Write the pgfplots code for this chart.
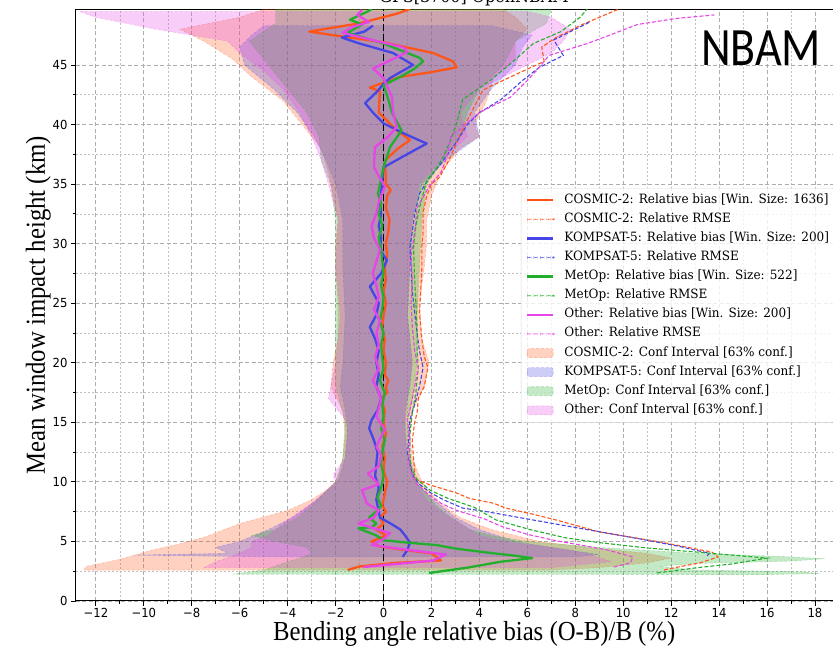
\documentclass[border=0pt]{standalone}
\usepackage{fontspec}
\usepackage{pgfplots}
\pgfplotsset{compat=1.18}
\setmainfont{DejaVu Serif}
\newfontfamily\tickfont{DejaVu Sans}[FakeStretch=0.93]
\newfontfamily\legfont{DejaVu Serif}[FakeStretch=0.94]
\newfontfamily\labfont{Liberation Serif}[FakeStretch=0.9]
\newfontfamily\nbamfont{Carlito}[FakeStretch=0.85]
\definecolor{cOr}{RGB}{255,85,25}
\definecolor{cBl}{RGB}{70,70,230}
\definecolor{cGr}{RGB}{35,175,45}
\definecolor{cMg}{RGB}{230,70,230}
\tikzset{
  band/.style={fill=#1, fill opacity=0.27, draw=#1, draw opacity=0.3, line width=0.6pt, dash pattern=on 3pt off 2pt},
  bias/.style={draw=#1, line width=2.3pt, line join=round},
  rmse/.style={draw=#1, line width=1.1pt, dash pattern=on 4pt off 2pt},
}
\pgfplotsset{
  myarealegend/.style={legend image code/.code={\draw[##1] (0pt,-4.5pt) rectangle (26pt,4.5pt);}},
  mylinelegend/.style={legend image code/.code={\draw[##1] (0pt,0pt) -- (26pt,0pt);}},
  mydashlegend/.style={legend image code/.code={\path[##1, solid, draw=none, fill] (0pt,-0.6pt) rectangle (4pt,0.6pt) (6.5pt,-0.6pt) rectangle (10.5pt,0.6pt) (13pt,-0.6pt) rectangle (17pt,0.6pt) (19.5pt,-0.6pt) rectangle (23.5pt,0.6pt) (26pt,-0.6pt) rectangle (26.1pt,0.6pt);}},
}
\begin{document}
\begin{tikzpicture}
\begin{axis}[
  at={(0pt,0pt)}, anchor=south west,
  x=23.97pt, y=11.912pt,
  xmin=-12.83, xmax=20.4, ymin=0, ymax=49.67,
  xtick={-12,-10,...,18},
  xticklabels={−12,−10,−8,−6,−4,−2,0,2,4,6,8,10,12,14,16,18},
  ytick={0,5,...,45},
  yticklabels={0,5,10,15,20,25,30,35,40,45},
  minor x tick num=1, minor y tick num=1,
  grid=both,
  major grid style={draw=black!32, line width=0.8pt, dash pattern=on 4pt off 2.5pt},
  minor grid style={draw=black!25, line width=0.5pt, dash pattern=on 2pt off 2pt},
  tick align=outside, xtick pos=left, ytick pos=left,
  major tick length=5pt, minor tick length=3pt,
  every tick/.style={black, line width=0.8pt},
  axis line style={line width=1pt},
  ticklabel style={font=\tickfont\fontsize{12.5}{14}\selectfont},
  xticklabel style={yshift=1pt},
  xlabel={Bending angle relative bias (O-B)/B (\%)},
  ylabel={Mean window impact height (km)},
  label style={font=\labfont\fontsize{27.5}{30}\selectfont},
  xlabel style={yshift=3pt},
  ylabel style={yshift=-5pt},
  legend cell align=left,
  legend style={at={(axis cs:5.73,34.67)}, anchor=north west, draw=black!15, rounded corners=2pt,
    fill=white, fill opacity=0.8, text opacity=1, font=\legfont\fontsize{12.8}{14}\selectfont,
    inner xsep=5pt, inner ysep=6pt, row sep=7.1pt, column sep=10pt,
    nodes={inner sep=0pt, text height=9pt, text depth=3pt}},
]
% confidence intervals
\addplot[band=cOr, forget plot] coordinates {
(-12.5,2.6) (-12.4,2.9) (-11,3.5) (-9.6,4.3) (-8.5,4.8) (-7.4,5.4) (-6.0,6.5) (-4.0,7.6) (-3.0,8.5) (-2.4,9.3) (-2.0,10.0) (-1.8,11) (-1.7,12) (-1.6,14) (-1.7,16) (-2.2,18) (-2.1,20) (-1.9,22) (-1.9,25) (-2.0,28) (-2.0,30) (-1.9,32) (-2.1,34) (-2.3,36) (-2.6,38) (-3.4,40) (-4.2,42) (-5.5,44) (-6.3,45.5) (-7.5,47) (-8.5,48) (-6.0,49) (-5.0,49.67)
(5.0,49.67) (5.5,49) (6.0,48) (5.5,47) (5.5,45.5) (4.6,44) (4.3,42) (3.8,40) (4.0,39) (3.2,38) (2.4,36) (2.0,34) (1.8,32) (1.8,30) (1.7,28) (1.5,25) (1.6,22) (1.9,20) (1.7,18) (1.2,16) (1.1,14) (1.2,12) (1.4,11) (1.6,10) (2.0,9) (2.5,8) (3.2,7) (4.5,6) (6.5,5) (8.5,4.5) (11,4.0) (12,3.6) (11,3.2) (9,2.8) (7,2.6)
} -- cycle;
\addplot[band=cBl, forget plot] coordinates {
(-4.5,3.7) (-10.4,3.85) (-6.5,4.0) (-7.0,4.5) (-6.0,5) (-4.8,6) (-3.8,7) (-3.1,8) (-2.5,9) (-1.9,10) (-1.6,12) (-1.5,14) (-1.6,16) (-1.8,18) (-1.7,20) (-1.6,24) (-1.7,28) (-1.7,32) (-2.0,35) (-2.4,37) (-2.9,39) (-3.6,41) (-4.6,43) (-5.8,45) (-6.0,46.5) (-5.5,47.5) (-5.0,48.3)
(4.5,48.3) (6.2,47.5) (5.8,46.5) (5.5,45) (4.5,43) (3.8,41) (4.0,39) (2.6,37) (1.6,35) (1.2,32) (1.1,28) (1.0,24) (1.2,20) (1.1,18) (0.9,16) (0.9,14) (1.0,12) (1.3,10) (1.8,9) (2.4,8) (3,7) (4,6) (5.5,5) (7,4.5) (9,3.9) (8,3.7)
} -- cycle;
\addplot[band=cGr, forget plot] coordinates {
(-6.3,2.25) (-5,2.6) (-4,3.3) (-3.5,3.6) (-3.0,4.0) (-3.2,4.5) (-4.5,5.0) (-5.5,5.5) (-4.5,6) (-3.6,7) (-3.0,8) (-2.5,9) (-2.0,10) (-1.7,12) (-1.6,15) (-2.0,18) (-2.0,20) (-2.0,24) (-2.0,28) (-2.0,32) (-2.2,35) (-2.6,37) (-2.7,39) (-3.2,41) (-4.0,43) (-4.8,45) (-5.6,47) (-4.5,48.5) (-4.5,49.67)
(7.0,49.67) (6.8,48.5) (5.5,47) (5.0,45) (4.0,43) (3.5,41) (3.2,39) (2.5,37) (1.8,35) (1.6,32) (1.5,28) (1.4,24) (1.4,20) (1.3,18) (1.0,15) (1.1,12) (1.4,10) (1.8,9) (2.2,8) (2.8,7) (3.6,6) (4.5,5.5) (6,5.0) (9,4.5) (13,4.0) (16.5,3.75) (18.4,3.55) (17,3.35) (13,3.15) (11.5,2.9) (13,2.6) (17.5,2.45) (18.2,2.3) (16,2.22)
} -- cycle;
\addplot[band=cMg, forget plot] coordinates {
(-7.5,2.8) (-7.0,3.3) (-6.0,4.0) (-5.5,4.5) (-5.5,5.0) (-4.8,5.5) (-4.2,6.5) (-3.5,7.5) (-2.8,8.5) (-2.0,10) (-2.1,10.6) (-1.6,12) (-1.5,15) (-2.3,17) (-2.0,20) (-1.8,24) (-2.0,28) (-1.9,32) (-2.3,35) (-2.6,37) (-3.0,39) (-3.5,41) (-4.2,43) (-5.0,44.5) (-6.0,46) (-6.5,47) (-9.5,48) (-12.0,49) (-12.7,49.5)
(6.0,49.5) (7.0,49) (7.8,48) (7.5,47) (7.0,46) (5.5,44.5) (4.0,43) (3.2,41) (3.5,39) (2.4,37) (1.5,35) (1.2,32) (1.1,28) (1.0,24) (1.2,20) (1.0,17) (0.9,15) (1.0,12) (1.3,10) (1.8,8.5) (2.4,7.5) (3.2,6.5) (4,5.5) (5,5.0) (7,4.5) (8.5,4.0) (9.5,3.3) (7,2.8)
} -- cycle;
% zero line
\addplot[black, line width=1.8pt, dash pattern=on 7pt off 3pt, forget plot] coordinates {(0,0) (0,49.67)};
% COSMIC-2
\addplot[bias=cOr, forget plot] coordinates {
(-1.5,2.6) (-1.0,2.9) (0.5,3.2) (2.4,3.4) (2.2,3.7) (2.0,4.0) (0.8,4.3) (-0.2,4.6) (-0.5,5.0) (0.1,5.5) (-0.3,6.0) (0.0,6.5) (-0.15,7.0) (0.1,7.5) (-0.05,8.0) (0.05,9.0) (0.15,10.0) (0.0,11.0) (0.05,12.0) (-0.05,13) (0.1,14) (0.0,15) (0.05,16) (-0.1,17) (0.15,17.5) (0.1,18) (0.2,18.5) (0.05,19) (0.1,20) (0.0,21) (0.05,22) (-0.05,23) (0.0,24) (0.1,25) (0.0,26) (0.1,27) (0.05,28) (0.15,29) (0.1,30) (0.2,31) (0.25,32) (0.1,33) (0.15,34) (0.3,34.5) (0.1,35) (0.07,37.0) (0.55,37.9) (1.1,38.7) (0.55,39.5) (-0.2,41.0) (-0.15,42.8) (-0.57,43.1) (0.7,44.0) (2.0,44.4) (3.05,44.8) (2.9,45.3) (2.07,46.0) (0.0,46.9) (-2.1,47.5) (-3.1,47.8) (-1.0,48.5) (0.55,49.3) (1.1,49.7)
};
\addplot[rmse=cOr, forget plot] coordinates {
(11.7,2.6) (12.4,2.9) (13.2,3.2) (13.96,3.7) (13.7,4.1) (11.7,4.9) (10.2,5.4) (9.0,5.8) (7.2,6.8) (6.2,7.3) (5.1,7.8) (4.6,8.2) (3.6,8.6) (3.0,9.1) (2.0,9.7) (1.25,10.3) (1.3,11.0) (1.25,12.0) (1.2,13.5) (1.3,15.0) (1.4,15.8) (1.45,17.0) (1.7,18.0) (1.85,19.6) (1.7,20.5) (1.6,22) (1.5,24.2) (1.55,26) (1.6,28) (1.6,29.8) (1.65,31) (1.65,32.6) (1.8,34) (2.0,35) (2.35,35.6) (2.8,37.3) (3.1,38.7) (3.5,40.4) (4.15,42.9) (5.3,44.0) (6.7,45.3) (6.6,46.5) (7.2,47.3) (8.3,48.4) (9.7,49.6) (10.0,49.8)
};
% KOMPSAT-5
\addplot[bias=cBl, forget plot] coordinates {
(0.8,3.7) (1.0,4.3) (1.1,4.9) (0.9,5.5) (0.7,6.0) (0.3,6.5) (-0.15,7.0) (-0.2,7.5) (-0.3,8.5) (-0.2,9.5) (-0.35,10.5) (-0.3,11.5) (-0.25,12.5) (-0.4,13.5) (-0.6,14.5) (-0.5,15.2) (-0.25,16) (-0.1,17) (-0.3,18) (-0.2,19) (-0.3,20) (-0.2,21) (-0.35,22) (-0.57,23.0) (-0.3,24) (-0.2,25) (-0.57,26.4) (-0.1,27.5) (0.14,28.6) (-0.15,29.5) (-0.1,30.5) (-0.2,31.5) (-0.1,32.5) (-0.15,33.5) (-0.07,34.8) (0,36.4) (0.8,37.3) (1.8,38.4) (0.9,39.2) (0,40.1) (-0.44,41.0) (-0.77,41.8) (-0.3,42.7) (0,43.4) (0.27,43.9) (1.23,45.0) (0.4,46.0) (-1.0,46.8) (-1.74,47.3) (-0.8,47.8) (-0.44,48.3)
};
\addplot[rmse=cBl, forget plot] coordinates {
(13.5,3.8) (13.6,4.0) (12.3,4.6) (11.0,5.1) (9.6,5.6) (8.2,6.1) (6.8,6.6) (5.4,7.1) (4.3,7.5) (3.3,7.8) (2.5,8.5) (1.95,9.1) (1.5,9.8) (1.25,10.4) (1.1,11.5) (1.0,12.4) (1.05,13.5) (1.1,15.2) (1.3,16.5) (1.5,18) (1.65,19.6) (1.5,21) (1.4,22.5) (1.3,24.2) (1.2,26) (1.15,28) (1.1,29.7) (1.2,31) (1.3,32.5) (1.5,34.2) (1.9,35.5) (2.5,37) (3.1,38.7) (3.5,40) (4.0,41.0) (4.9,42.1) (5.8,43.7) (6.5,44.8) (7.5,45.8) (7.1,47.1) (8.3,48.3) (8.6,48.6)
};
% MetOp
\addplot[bias=cGr, forget plot] coordinates {
(1.9,2.35) (3.5,2.8) (4.9,3.3) (6.2,3.6) (5.5,3.8) (4.6,4.0) (3.0,4.4) (2.2,4.7) (1.0,4.9) (0.0,5.1) (-0.3,5.5) (-1.05,6.1) (-0.5,6.2) (-0.3,6.5) (-0.6,7.0) (-0.3,7.5) (-0.1,8.0) (-0.25,8.7) (-0.1,9.5) (0.0,10.5) (-0.1,11.5) (-0.05,12.5) (0.05,13.5) (-0.1,14.5) (0.0,15.5) (-0.05,16.5) (0.05,17.5) (-0.15,18.5) (0.0,19.5) (-0.05,20.5) (-0.1,21.5) (0.0,22.5) (-0.15,23.5) (-0.05,24.5) (0.0,25.5) (-0.1,26.5) (0.0,27.5) (-0.05,28.5) (-0.1,29.5) (-0.2,30.5) (-0.05,31.5) (-0.2,32.5) (-0.1,33.3) (-0.23,34.2) (0,36.4) (0.27,38.1) (0.75,39.5) (0.35,41.0) (0.2,42.1) (0,43.3) (0.7,44.0) (1.3,44.7) (1.65,45.3) (1.5,45.6) (0.0,46.8) (-1.5,47.7) (-0.9,48.4) (-1.4,48.8) (-0.65,49.5) (-0.5,49.7)
};
\addplot[rmse=cGr, forget plot] coordinates {
(11.4,2.35) (13.1,2.8) (14.5,3.1) (16.0,3.6) (13.1,4.1) (11.0,4.45) (9.0,4.9) (7.6,5.3) (6.1,6.0) (4.7,6.8) (3.75,7.9) (2.7,8.6) (1.95,9.3) (1.4,10.2) (1.15,11.2) (1.1,12.4) (1.1,14) (1.2,15.8) (1.35,17.5) (1.45,19.6) (1.4,21) (1.4,23) (1.35,25) (1.3,27) (1.25,29.8) (1.35,31.5) (1.5,33) (1.8,35.3) (2.2,36.3) (2.5,37.3) (2.8,38.7) (3.05,40.1) (3.3,42.1) (4.45,43.7) (5.3,45.1) (6.25,46.8) (7.4,47.8) (8.2,49.0) (8.5,49.7)
};
% Other
\addplot[bias=cMg, forget plot] coordinates {
(-0.85,2.85) (0.5,3.1) (2.07,3.4) (2.6,3.9) (1.0,4.3) (-0.5,4.7) (0.0,5.2) (0.27,5.7) (-0.4,6.1) (-1.05,6.5) (-0.4,7.0) (-0.2,7.6) (-0.7,8.2) (-0.9,9.3) (-0.2,9.8) (-0.65,10.7) (-0.2,11.3) (-0.1,12.2) (-0.3,13.0) (0.05,14.4) (-0.3,15.5) (-0.1,16.9) (-0.25,17.8) (-0.45,18.5) (-0.2,19.5) (-0.35,20.5) (-0.2,21.5) (-0.3,22.5) (-0.15,23.5) (-0.4,24.5) (-0.2,25.5) (-0.3,26.5) (-0.45,27.5) (-0.3,28.5) (-0.15,29.5) (-0.4,30.5) (-0.5,31.5) (-0.3,32.5) (-0.2,33.5) (0.05,34.8) (-0.4,36.4) (-0.36,38.1) (0.2,39.0) (0.55,39.8) (0.4,41.0) (0.35,42.3) (0,43.9) (-0.44,44.7) (0.3,45.4) (1.0,46.1) (0.8,46.5) (-0.5,47.1) (-1.7,47.7) (-1.3,48.2) (-0.6,48.6) (-1.1,49.2) (-0.9,49.6)
};
\addplot[rmse=cMg, forget plot] coordinates {
(9.6,2.85) (10.3,3.2) (10.4,3.7) (9.3,4.3) (8.2,4.7) (7.1,5.1) (6.0,5.6) (5.0,6.2) (4.2,6.9) (3.05,7.6) (2.4,8.2) (1.9,8.9) (1.4,9.8) (1.15,10.8) (1.05,12) (1.1,13.5) (1.0,15.2) (1.15,16.5) (1.3,18) (1.45,19.6) (1.3,21) (1.2,23) (1.15,25) (1.2,27) (1.15,29) (1.3,31) (1.4,33) (1.9,34.8) (2.4,36) (2.65,37.3) (2.8,39.0) (3.3,39.8) (4.0,41.0) (5.3,42.3) (6.0,43.7) (6.5,44.8) (6.9,45.8) (8.5,46.8) (9.3,47.4) (10.6,48.4) (12.2,48.9) (13.8,49.2)
};
% legend
\addlegendimage{mylinelegend, color=cOr, line width=2.3pt}
\addlegendentry{COSMIC-2: Relative bias [Win. Size: 1636]}
\addlegendimage{mydashlegend, color=cOr}
\addlegendentry{COSMIC-2: Relative RMSE}
\addlegendimage{mylinelegend, color=cBl, line width=2.3pt}
\addlegendentry{KOMPSAT-5: Relative bias [Win. Size: 200]}
\addlegendimage{mydashlegend, color=cBl}
\addlegendentry{KOMPSAT-5: Relative RMSE}
\addlegendimage{mylinelegend, color=cGr, line width=2.3pt}
\addlegendentry{MetOp: Relative bias [Win. Size: 522]}
\addlegendimage{mydashlegend, color=cGr}
\addlegendentry{MetOp: Relative RMSE}
\addlegendimage{mylinelegend, color=cMg, line width=2.3pt}
\addlegendentry{Other: Relative bias [Win. Size: 200]}
\addlegendimage{mydashlegend, color=cMg}
\addlegendentry{Other: Relative RMSE}
\addlegendimage{myarealegend, band=cOr}
\addlegendentry{COSMIC-2: Conf Interval [63\% conf.]}
\addlegendimage{myarealegend, band=cBl}
\addlegendentry{KOMPSAT-5: Conf Interval [63\% conf.]}
\addlegendimage{myarealegend, band=cGr}
\addlegendentry{MetOp: Conf Interval [63\% conf.]}
\addlegendimage{myarealegend, band=cMg}
\addlegendentry{Other: Conf Interval [63\% conf.]}
\end{axis}
\node[anchor=base, font=\legfont\fontsize{17}{17}\selectfont] at (398pt,598pt) {GPS[3700] OpenNBAM};
\node[anchor=base, font=\nbamfont\fontsize{54}{54}\selectfont] at (685pt,535pt) {NBAM};
\pgfresetboundingbox
\path[use as bounding box] (-76pt,-46pt) rectangle (757pt,601pt);
\end{tikzpicture}
\end{document}
